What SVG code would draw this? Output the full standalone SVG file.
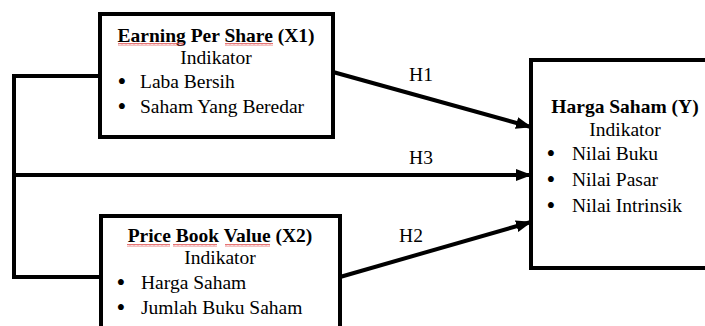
<svg xmlns="http://www.w3.org/2000/svg" width="705" height="326" viewBox="0 0 705 326">
  <style>
    .box { fill: #fff; stroke: #000; stroke-width: 4; }
    .conn { fill: none; stroke: #000; stroke-width: 4; }
    text { font-family: "Liberation Serif", "Times New Roman", serif; font-size: 19.5px; fill: #000; }
    .t { font-weight: bold; text-anchor: middle; }
    .c { text-anchor: middle; }
    .b { text-anchor: middle; font-size: 25px; }
  </style>
  <defs>
    <marker id="arr" markerUnits="userSpaceOnUse" markerWidth="16" markerHeight="12" refX="15" refY="6" orient="auto">
      <path d="M0,0 L16,6 L0,12 Z" fill="#000"/>
    </marker>
    <pattern id="wavy" width="4" height="3" patternUnits="userSpaceOnUse">
      <polyline points="0,2.5 1,0.5 2,2.5 3,0.5 4,2.5" fill="none" stroke="#e05050" stroke-width="0.8"/>
    </pattern>
  </defs>

  <g id="connectors">
    <polyline class="conn" points="100,76 14,76 14,277 100,277"/>
    <line class="conn" x1="14" y1="175" x2="531" y2="175" marker-end="url(#arr)"/>
    <line class="conn" x1="333" y1="72" x2="531" y2="127" marker-end="url(#arr)"/>
    <line class="conn" x1="340" y1="277" x2="531" y2="222" marker-end="url(#arr)"/>
    <text x="421" y="81" class="c">H1</text>
    <text x="421" y="164" class="c">H3</text>
    <text x="411" y="242" class="c">H2</text>
  </g>

  <g id="x1">
    <rect class="box" x="100" y="14" width="233" height="123"/>
    <text x="216" y="42" class="t">Earning Per Share (X1)</text>
    <rect x="118" y="43" width="66" height="3" fill="url(#wavy)"/>
    <rect x="225" y="43" width="48" height="3" fill="url(#wavy)"/>
    <text x="216" y="64" class="c">Indikator</text>
    <text x="122" y="90" class="b">•</text>
    <text x="140" y="88">Laba Bersih</text>
    <text x="122" y="115" class="b">•</text>
    <text x="140" y="113">Saham Yang Beredar</text>
  </g>

  <g id="x2">
    <rect class="box" x="101" y="216" width="239" height="130"/>
    <text x="220" y="242" class="t">Price Book Value (X2)</text>
    <rect x="127" y="244" width="43" height="3" fill="url(#wavy)"/>
    <rect x="173" y="244" width="44" height="3" fill="url(#wavy)"/>
    <rect x="225" y="244" width="45" height="3" fill="url(#wavy)"/>
    <text x="220" y="264" class="c">Indikator</text>
    <text x="121" y="291" class="b">•</text>
    <text x="141" y="289">Harga Saham</text>
    <text x="121" y="316" class="b">•</text>
    <text x="141" y="314">Jumlah Buku Saham</text>
  </g>

  <g id="y">
    <rect class="box" x="531" y="60" width="190" height="208"/>
    <text x="625" y="113" class="t">Harga Saham (Y)</text>
    <text x="625" y="136" class="c">Indikator</text>
    <text x="551" y="162" class="b">•</text>
    <text x="572" y="160">Nilai Buku</text>
    <text x="551" y="188" class="b">•</text>
    <text x="572" y="186">Nilai Pasar</text>
    <text x="551" y="214" class="b">•</text>
    <text x="572" y="212">Nilai Intrinsik</text>
  </g>
</svg>
